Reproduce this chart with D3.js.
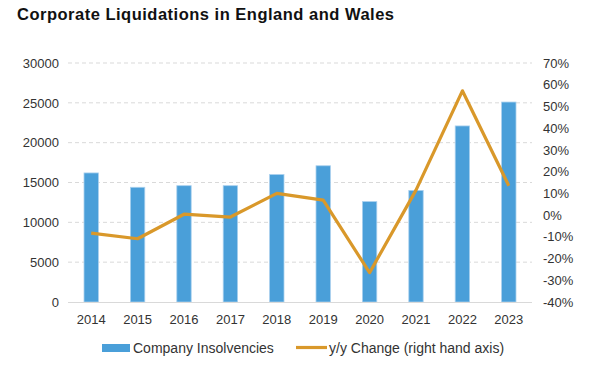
<!DOCTYPE html>
<html><head><meta charset="utf-8">
<script src="https://cdn.jsdelivr.net/npm/d3@7"></script>
<style>body{margin:0;background:#fff;}svg{display:block;font-family:"Liberation Sans",Arial,sans-serif;}</style>
</head><body>
<svg id="chart" width="603" height="368"></svg>
<script>
const years = ["2014","2015","2016","2017","2018","2019","2020","2021","2022","2023"];
const insolvencies = [16200,14400,14600,14600,16000,17100,12600,14000,22100,25100];
const yoyChange = [-8.3,-10.9,0.4,-0.9,10.0,6.9,-26.5,11.5,57.2,13.5];
const leftTicks = [0,5000,10000,15000,20000,25000,30000];
const rightTicks = [-40,-30,-20,-10,0,10,20,30,40,50,60,70];

const svg = d3.select("#chart");
const m = {left:68, right:532, top:63, bottom:302};
const x = d3.scaleBand().domain(years).range([m.left,m.right]).paddingInner(0.69).paddingOuter(0.345);
const yL = d3.scaleLinear().domain([0,30000]).range([m.bottom,m.top]);
const yR = d3.scaleLinear().domain([-40,70]).range([m.bottom,m.top]);

svg.append("text").attr("x",17).attr("y",20).attr("font-size",16.5).attr("font-weight","bold")
  .attr("letter-spacing",0.5).attr("fill","#111").text("Corporate Liquidations in England and Wales");

// gridlines
svg.append("g").selectAll("line").data(leftTicks.filter(d=>d>0)).join("line")
  .attr("x1",m.left).attr("x2",m.right).attr("y1",d=>yL(d)).attr("y2",d=>yL(d))
  .attr("stroke","#d9d9d9").attr("stroke-width",1).attr("stroke-dasharray","4,3");

// left axis
const gl = svg.append("g").attr("transform",`translate(${m.left},0)`)
  .call(d3.axisLeft(yL).tickValues(leftTicks).tickSize(0).tickPadding(9).tickFormat(d3.format("d")));
gl.select(".domain").remove();
gl.selectAll("text").attr("font-size",13).attr("fill","#333").attr("font-family","Liberation Sans, Arial, sans-serif");

// right axis
const gr = svg.append("g").attr("transform",`translate(${m.right},0)`)
  .call(d3.axisRight(yR).tickValues(rightTicks).tickSize(0).tickPadding(11).tickFormat(d=>d+"%"));
gr.select(".domain").remove();
gr.selectAll("text").attr("font-size",13).attr("fill","#333").attr("font-family","Liberation Sans, Arial, sans-serif");

// bars
svg.append("g").selectAll("rect").data(years).join("rect")
  .attr("x",d=>x(d)).attr("width",x.bandwidth())
  .attr("y",(d,i)=>yL(insolvencies[i])).attr("height",(d,i)=>yL(0)-yL(insolvencies[i]))
  .attr("fill","#4a9fd9").attr("stroke","#a9d0ee").attr("stroke-width",0.8);

// baseline
svg.append("line").attr("x1",m.left).attr("x2",m.right).attr("y1",m.bottom+0.5).attr("y2",m.bottom+0.5)
  .attr("stroke","#d9d9d9").attr("stroke-width",1);

// x axis
const gx = svg.append("g").attr("transform",`translate(0,${m.bottom})`)
  .call(d3.axisBottom(x).tickSize(0).tickPadding(13));
gx.select(".domain").remove();
gx.selectAll("text").attr("font-size",13).attr("fill","#333").attr("font-family","Liberation Sans, Arial, sans-serif");

// line
const line = d3.line().x((d,i)=>x(years[i])+x.bandwidth()/2).y(d=>yR(d));
svg.append("path").datum(yoyChange).attr("d",line).attr("fill","none")
  .attr("stroke","#d9982a").attr("stroke-width",3.2).attr("stroke-linejoin","round");

// legend
const lg = svg.append("g");
lg.append("rect").attr("x",102).attr("y",344).attr("width",28).attr("height",8).attr("fill","#4a9fd9");
lg.append("text").attr("x",133).attr("y",352.5).attr("font-size",14).attr("fill","#333").text("Company Insolvencies");
lg.append("line").attr("x1",296).attr("x2",327).attr("y1",347.5).attr("y2",347.5).attr("stroke","#d9982a").attr("stroke-width",3.2);
lg.append("text").attr("x",329).attr("y",352.5).attr("font-size",14).attr("fill","#333").text("y/y Change (right hand axis)");
</script>
</body></html>
